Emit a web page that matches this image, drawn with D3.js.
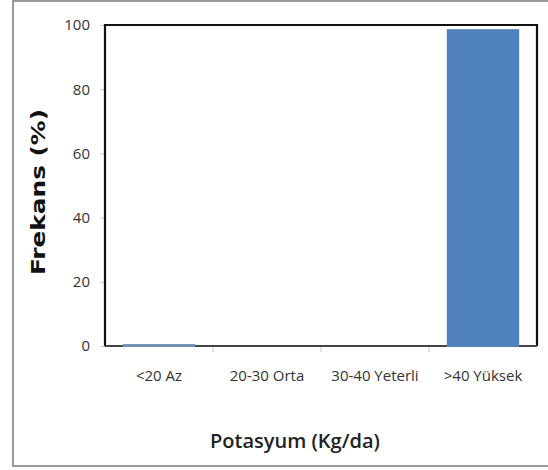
<!DOCTYPE html>
<html>
<head>
<meta charset="utf-8">
<script src="https://cdn.jsdelivr.net/npm/d3@7"></script>
<style>
  html, body { margin: 0; padding: 0; background: #fff; }
  svg { display: block; }
</style>
</head>
<body>
<script>
// Potassium classes and the share of samples in each (%)
const categories = ["<20 Az", "20-30 Orta", "30-40 Yeterli", ">40 Yüksek"];
const frequencies = [0.6, 0, 0, 98.7];
const yTicks = [0, 20, 40, 60, 80, 100];
const xTitle = "Potasyum (Kg/da)";
const yTitle = "Frekans (%)";

const W = 548, H = 470;
const margin = { left: 105, right: 11, top: 25, bottom: 124 };
const plotW = W - margin.left - margin.right;
const plotH = H - margin.top - margin.bottom;

const svg = d3.select("body").append("svg")
  .attr("width", W).attr("height", H);

// outer chart border
svg.append("rect")
  .attr("x", 13).attr("y", 1)
  .attr("width", W - 13 + 2).attr("height", 465)
  .attr("fill", "#fff").attr("stroke", "#9a9a9a").attr("stroke-width", 2);

const x = d3.scaleBand().domain(categories).range([0, plotW]).paddingInner(0.33).paddingOuter(0.165);
const y = d3.scaleLinear().domain([0, 100]).range([plotH, 0]);

const g = svg.append("g").attr("transform", `translate(${margin.left},${margin.top})`);

const tickFont = "'Open Sans', sans-serif";

// y axis
const yAxis = g.append("g")
  .call(d3.axisLeft(y).tickValues(yTicks).tickSize(5).tickPadding(10));
yAxis.select(".domain").remove();
yAxis.selectAll(".tick line").attr("stroke", "#c8c8c8");
yAxis.selectAll(".tick text")
  .attr("font-family", tickFont)
  .attr("font-size", 15).attr("fill", "#333");

// x axis: category labels with tick marks on band boundaries
const xAxis = g.append("g").attr("transform", `translate(0,${plotH})`)
  .call(d3.axisBottom(x).tickSize(0).tickPadding(24));
xAxis.select(".domain").remove();
xAxis.selectAll(".tick text")
  .attr("font-family", tickFont)
  .attr("font-size", 15).attr("fill", "#333");

const step = x.step();
g.selectAll("line.xt").data(d3.range(1, categories.length)).join("line")
  .attr("class", "xt")
  .attr("x1", d => x(categories[0]) - x.paddingOuter() * step + d * step)
  .attr("x2", d => x(categories[0]) - x.paddingOuter() * step + d * step)
  .attr("y1", plotH).attr("y2", plotH + 6)
  .attr("stroke", "#c8c8c8");

// plot frame
g.append("path")
  .attr("d", `M0,${plotH}V0H${plotW}V${plotH}`)
  .attr("fill", "none").attr("stroke", "#111").attr("stroke-width", 2.2);
g.append("line")
  .attr("x1", 0).attr("x2", plotW).attr("y1", plotH).attr("y2", plotH)
  .attr("stroke", "#444").attr("stroke-width", 2.2);

// bars, drawn over the frame so the tiny one tints the baseline
g.selectAll("rect.bar").data(categories).join("rect")
  .attr("class", "bar")
  .attr("x", d => x(d))
  .attr("width", x.bandwidth())
  .attr("y", (d, i) => y(frequencies[i]))
  .attr("height", (d, i) => y(0) - y(frequencies[i]) + (frequencies[i] > 0 ? 1 : 0))
  .attr("fill", (d, i) => i === 0 ? "#6f8fb5" : "#4f81bd");

// axis titles
svg.append("text")
  .attr("x", 295).attr("y", 448)
  .attr("text-anchor", "middle")
  .attr("font-family", "'Open Sans', sans-serif")
  .attr("font-size", 20).attr("font-weight", 600).attr("fill", "#222")
  .text(xTitle);

svg.append("text")
  .attr("transform", "translate(45,192) rotate(-90)")
  .attr("text-anchor", "middle")
  .attr("font-family", "'DejaVu Sans', sans-serif")
  .attr("font-size", 20).attr("font-weight", "bold").attr("fill", "#111")
  .attr("textLength", 166).attr("lengthAdjust", "spacingAndGlyphs")
  .text(yTitle);
</script>
</body>
</html>
